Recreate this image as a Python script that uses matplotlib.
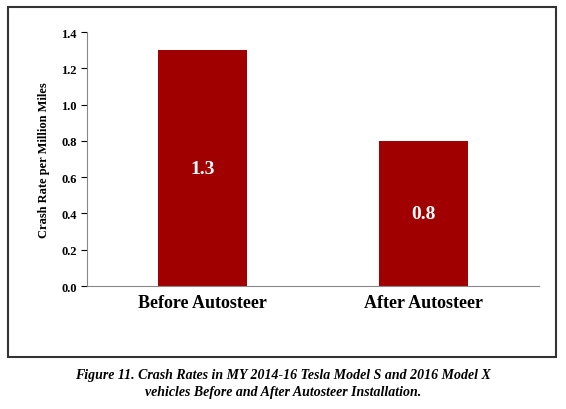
import matplotlib
matplotlib.use('Agg')
import matplotlib.pyplot as plt
from matplotlib.patches import Rectangle

categories = ['Before Autosteer', 'After Autosteer']
crash_rates = [1.3, 0.8]
rate_labels = ['1.3', '0.8']

plt.rcParams['font.family'] = ['Liberation Serif', 'DejaVu Serif']

fig = plt.figure(figsize=(5.66, 4.10), dpi=100)
ax = fig.add_axes([0.154, 0.30, 0.798, 0.6195])

# 图框
fig.patches.append(Rectangle((0.014, 0.127), 0.968, 0.853, transform=fig.transFigure,
                             fill=False, edgecolor='#333333', linewidth=1.5))

x = range(len(categories))
bars = ax.bar(x, crash_rates, width=0.4, color='#A00000')
for bar, lab in zip(bars, rate_labels):
    ax.text(bar.get_x() + bar.get_width() / 2, bar.get_height() / 2, lab,
            ha='center', va='center', color='white', fontsize=14, fontweight='bold')

ax.set_xlim(-0.52, 1.52)
ax.set_ylim(0, 1.4)
ax.set_yticks([0, 0.2, 0.4, 0.6, 0.8, 1.0, 1.2, 1.4])
ax.set_yticklabels([f'{v:.1f}' for v in ax.get_yticks()], fontsize=9, fontweight='bold')
ax.set_xticks(list(x))
ax.set_xticklabels(categories, fontsize=13, fontweight='bold')
ax.tick_params(axis='x', length=0, pad=6)
ax.tick_params(axis='y', length=4, direction='out')
ax.set_ylabel('Crash Rate per Million Miles', fontsize=9, fontweight='bold', labelpad=8)
for s in ['top', 'right']:
    ax.spines[s].set_visible(False)
ax.spines['left'].set_color('#888888')
ax.spines['bottom'].set_color('#888888')

fig.text(0.5, 0.085, 'Figure 11. Crash Rates in MY 2014-16 Tesla Model S and 2016 Model X',
         ha='center', va='center', fontsize=10, fontweight='bold', style='italic')
fig.text(0.5, 0.043, 'vehicles Before and After Autosteer Installation.',
         ha='center', va='center', fontsize=10, fontweight='bold', style='italic')

fig.savefig('out.png', dpi=100, facecolor='white')
